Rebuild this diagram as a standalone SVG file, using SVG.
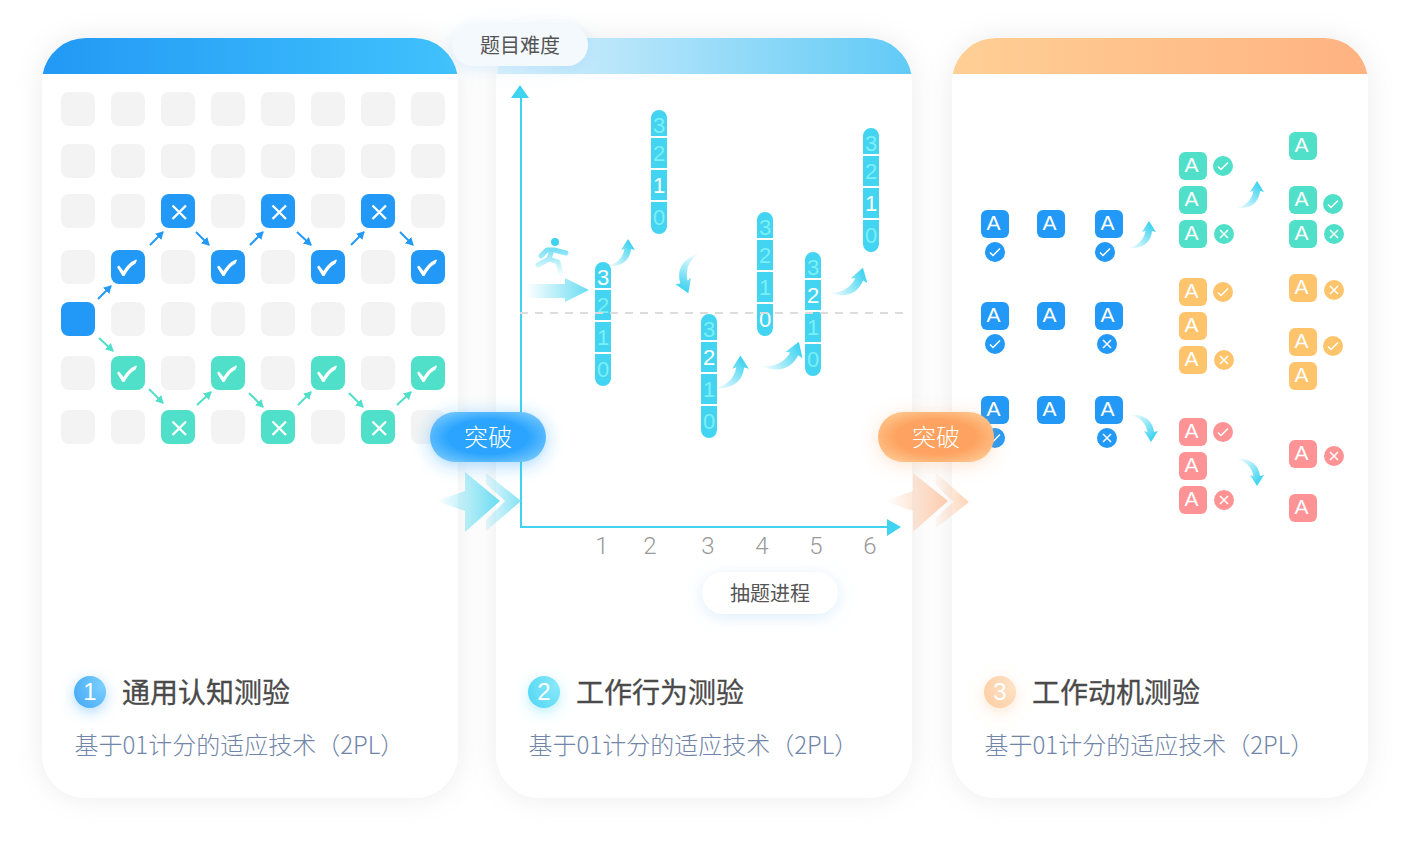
<svg xmlns="http://www.w3.org/2000/svg" xmlns:xlink="http://www.w3.org/1999/xlink" width="1410" height="844" viewBox="0 0 1410 844">
<style>
text{font-family:"Noto Sans CJK SC","Liberation Sans",sans-serif}
.card{fill:#fff}
.g{fill:#f3f3f3}
.b{fill:#2299f6}.t{fill:#50dfc8}.y{fill:#fec46c}.r{fill:#fe9396}
.A{font-family:"Liberation Sans",sans-serif;font-size:21px;fill:#fff;text-anchor:middle}
.seg{fill:#42d4f0}
.n{font-family:"Liberation Sans",sans-serif;font-size:22px;fill:#7befF6;text-anchor:middle}
.n.on{fill:#fff}
.ax{font-family:"Roboto","Liberation Sans",sans-serif;font-weight:300;font-size:24px;fill:#999;text-anchor:middle}
.h{font-size:28px;fill:#4a4a4a;font-weight:400;stroke:#4a4a4a;stroke-width:.3}
.s{font-size:24px;fill:#7085a8;font-weight:300}
.c{font-size:20px;fill:#555;text-anchor:middle}
.p{font-size:24px;fill:#fff;text-anchor:middle;font-weight:300}
.num{font-family:"Liberation Sans",sans-serif;font-size:24px;fill:#fff;text-anchor:middle}
.sa{stroke:#2299f6;stroke-width:2;marker-end:url(#mb);fill:none}
.ta{stroke:#50dfc8;stroke-width:2;marker-end:url(#mt);fill:none}
.ck{fill:#fff}
.xk{stroke:#fff;stroke-width:2.4;fill:none}
.ck2{stroke:#fff;stroke-width:1.5;fill:none}
.xk2{stroke:#fff;stroke-width:1.5;fill:none}
.axis{stroke:#3fd3f0;stroke-width:2;fill:none}
</style>
<defs>
<filter id="cs" x="-20%" y="-10%" width="140%" height="120%"><feDropShadow dx="0" dy="0" stdDeviation="14" flood-color="#000" flood-opacity=".075"/></filter>
<filter id="ls" x="-30%" y="-60%" width="160%" height="240%"><feDropShadow dx="0" dy="3" stdDeviation="8" flood-color="#8cc8f5" flood-opacity=".3"/></filter>
<filter id="gb" x="-30%" y="-60%" width="160%" height="220%"><feDropShadow dx="0" dy="3" stdDeviation="9" flood-color="#2aa4ff" flood-opacity=".45"/></filter>
<filter id="go" x="-30%" y="-60%" width="160%" height="220%"><feDropShadow dx="0" dy="3" stdDeviation="9" flood-color="#fda260" flood-opacity=".3"/></filter>
<filter id="n1" x="-100%" y="-100%" width="300%" height="300%"><feDropShadow dx="0" dy="4" stdDeviation="7" flood-color="#5bb8f9" flood-opacity=".5"/></filter>
<filter id="n2" x="-100%" y="-100%" width="300%" height="300%"><feDropShadow dx="0" dy="4" stdDeviation="7" flood-color="#5fdcf5" flood-opacity=".45"/></filter>
<filter id="n3" x="-100%" y="-100%" width="300%" height="300%"><feDropShadow dx="0" dy="4" stdDeviation="7" flood-color="#fdcfa5" flood-opacity=".5"/></filter>
<linearGradient id="h1"><stop offset="0" stop-color="#2299f5"/><stop offset="1" stop-color="#40c2fc"/></linearGradient>
<linearGradient id="h2"><stop offset="0" stop-color="#dbf1fc"/><stop offset="1" stop-color="#60caf6"/></linearGradient>
<linearGradient id="h3"><stop offset="0" stop-color="#ffcf96"/><stop offset="1" stop-color="#ffb282"/></linearGradient>
<radialGradient id="pb" cx=".5" cy=".5" r=".62" gradientTransform="translate(0 .0) scale(1 1)"><stop offset="0" stop-color="#2aa4ff"/><stop offset=".55" stop-color="#2aa4ff"/><stop offset="1" stop-color="#78c9fb"/></radialGradient>
<radialGradient id="po" cx=".5" cy=".5" r=".62"><stop offset="0" stop-color="#fda260"/><stop offset=".55" stop-color="#fda260"/><stop offset="1" stop-color="#fec990"/></radialGradient>
<linearGradient id="cv" x1="0" y1="1" x2="1" y2="0"><stop offset="0" stop-color="#3fd3f0" stop-opacity="0"/><stop offset=".85" stop-color="#3fd3f0"/></linearGradient>
<linearGradient id="cb"><stop offset="0" stop-color="#62dbf2" stop-opacity="0"/><stop offset="1" stop-color="#62dbf2" stop-opacity=".95"/></linearGradient>
<linearGradient id="cc"><stop offset="0" stop-color="#fdbf98" stop-opacity="0"/><stop offset="1" stop-color="#fdbf98" stop-opacity=".8"/></linearGradient>
<linearGradient id="cc2"><stop offset="0" stop-color="#7fdff4" stop-opacity=".2"/><stop offset="1" stop-color="#7fdff4" stop-opacity=".95"/></linearGradient>
<linearGradient id="cc3"><stop offset="0" stop-color="#fdcfb0" stop-opacity=".15"/><stop offset="1" stop-color="#fdcfb0" stop-opacity=".9"/></linearGradient>
<linearGradient id="rs" gradientUnits="userSpaceOnUse" x1="550" y1="238" x2="550" y2="274"><stop offset="0" stop-color="#3fd3f0"/><stop offset="1" stop-color="#3fd3f0" stop-opacity=".05"/></linearGradient>
<radialGradient id="nb1" cx=".9" cy=".3" r="1"><stop offset="0" stop-color="#7ad0fd"/><stop offset="1" stop-color="#4aabf7"/></radialGradient>
<radialGradient id="nb2" cx=".9" cy=".3" r="1"><stop offset="0" stop-color="#8ae9fa"/><stop offset="1" stop-color="#56d8f5"/></radialGradient>
<radialGradient id="nb3" cx=".9" cy=".3" r="1"><stop offset="0" stop-color="#fee2c6"/><stop offset="1" stop-color="#fdcfa5"/></radialGradient>
<marker id="mb" markerUnits="userSpaceOnUse" markerWidth="8" markerHeight="9" refX="7" refY="4.5" orient="auto"><path d="M0 0L8 4.5L0 9Z" fill="#2299f6"/></marker>
<marker id="mt" markerUnits="userSpaceOnUse" markerWidth="8" markerHeight="9" refX="7" refY="4.5" orient="auto"><path d="M0 0L8 4.5L0 9Z" fill="#50dfc8"/></marker>
<path id="curve" d="M22-27L29-16L25-17C24-5 14 2 0 0C10-1 17-8 18.500-17L15-16Z" fill="url(#cv)"/>
<path id="check" class="ck" d="M6 17L8 15.500L12.500 21Q17 13 25 9.500L26 10L24.500 13.500Q18 17 13.500 26L11.500 26Z"/>
<path id="cross" class="xk" d="M11.500 11.500L25 25M25 11.500L11.500 25"/>
<path id="ck2" class="ck2" d="M-5 .5L-2 3.500L5-3.500"/>
<path id="xk2" class="xk2" d="M-4-4L4 4M4-4L-4 4"/>
</defs>

<g id="card-1"><rect class="card" x="42" y="38" width="416" height="760" rx="44" filter="url(#cs)"/><path d="M42.700 74A44 44 0 0 1 86 38H414A44 44 0 0 1 457.300 74Z" fill="url(#h1)"/></g>
<g id="card-2"><rect class="card" x="496" y="38" width="416" height="760" rx="44" filter="url(#cs)"/><path d="M496.700 74A44 44 0 0 1 540 38H868A44 44 0 0 1 911.300 74Z" fill="url(#h2)"/></g>
<g id="card-3"><rect class="card" x="952" y="38" width="416" height="760" rx="44" filter="url(#cs)"/><path d="M952.700 74A44 44 0 0 1 996 38H1324A44 44 0 0 1 1367.300 74Z" fill="url(#h3)"/></g>

<g id="grid">
<g id="grid-empty" class="g">
<rect x="61" y="92" width="34" height="34" rx="8"/><rect x="111" y="92" width="34" height="34" rx="8"/><rect x="161" y="92" width="34" height="34" rx="8"/><rect x="211" y="92" width="34" height="34" rx="8"/><rect x="261" y="92" width="34" height="34" rx="8"/><rect x="311" y="92" width="34" height="34" rx="8"/><rect x="361" y="92" width="34" height="34" rx="8"/><rect x="411" y="92" width="34" height="34" rx="8"/>
<rect x="61" y="144" width="34" height="34" rx="8"/><rect x="111" y="144" width="34" height="34" rx="8"/><rect x="161" y="144" width="34" height="34" rx="8"/><rect x="211" y="144" width="34" height="34" rx="8"/><rect x="261" y="144" width="34" height="34" rx="8"/><rect x="311" y="144" width="34" height="34" rx="8"/><rect x="361" y="144" width="34" height="34" rx="8"/><rect x="411" y="144" width="34" height="34" rx="8"/>
<rect x="61" y="194" width="34" height="34" rx="8"/><rect x="111" y="194" width="34" height="34" rx="8"/><rect x="211" y="194" width="34" height="34" rx="8"/><rect x="311" y="194" width="34" height="34" rx="8"/><rect x="411" y="194" width="34" height="34" rx="8"/>
<rect x="61" y="250" width="34" height="34" rx="8"/><rect x="161" y="250" width="34" height="34" rx="8"/><rect x="261" y="250" width="34" height="34" rx="8"/><rect x="361" y="250" width="34" height="34" rx="8"/>
<rect x="111" y="302" width="34" height="34" rx="8"/><rect x="161" y="302" width="34" height="34" rx="8"/><rect x="211" y="302" width="34" height="34" rx="8"/><rect x="261" y="302" width="34" height="34" rx="8"/><rect x="311" y="302" width="34" height="34" rx="8"/><rect x="361" y="302" width="34" height="34" rx="8"/><rect x="411" y="302" width="34" height="34" rx="8"/>
<rect x="61" y="356" width="34" height="34" rx="8"/><rect x="161" y="356" width="34" height="34" rx="8"/><rect x="261" y="356" width="34" height="34" rx="8"/><rect x="361" y="356" width="34" height="34" rx="8"/>
<rect x="61" y="410" width="34" height="34" rx="8"/><rect x="111" y="410" width="34" height="34" rx="8"/><rect x="211" y="410" width="34" height="34" rx="8"/><rect x="311" y="410" width="34" height="34" rx="8"/><rect x="411" y="410" width="34" height="34" rx="8"/>
</g>
<rect id="start" class="b" x="61" y="302" width="34" height="34" rx="8"/>
<g id="blue-path">
<rect class="b" x="161" y="194" width="34" height="34" rx="8"/><use href="#cross" x="161" y="194"/>
<rect class="b" x="261" y="194" width="34" height="34" rx="8"/><use href="#cross" x="261" y="194"/>
<rect class="b" x="361" y="194" width="34" height="34" rx="8"/><use href="#cross" x="361" y="194"/>
<rect class="b" x="111" y="250" width="34" height="34" rx="8"/><use href="#check" x="111" y="250"/>
<rect class="b" x="211" y="250" width="34" height="34" rx="8"/><use href="#check" x="211" y="250"/>
<rect class="b" x="311" y="250" width="34" height="34" rx="8"/><use href="#check" x="311" y="250"/>
<rect class="b" x="411" y="250" width="34" height="34" rx="8"/><use href="#check" x="411" y="250"/>
</g>
<g id="green-path">
<rect class="t" x="111" y="356" width="34" height="34" rx="8"/><use href="#check" x="111" y="356"/>
<rect class="t" x="211" y="356" width="34" height="34" rx="8"/><use href="#check" x="211" y="356"/>
<rect class="t" x="311" y="356" width="34" height="34" rx="8"/><use href="#check" x="311" y="356"/>
<rect class="t" x="411" y="356" width="34" height="34" rx="8"/><use href="#check" x="411" y="356"/>
<rect class="t" x="161" y="410" width="34" height="34" rx="8"/><use href="#cross" x="161" y="410"/>
<rect class="t" x="261" y="410" width="34" height="34" rx="8"/><use href="#cross" x="261" y="410"/>
<rect class="t" x="361" y="410" width="34" height="34" rx="8"/><use href="#cross" x="361" y="410"/>
</g>
</g>

<g id="connectors">
<path class="sa" d="M98 299L111 286"/><path class="sa" d="M150 245L163 232"/><path class="sa" d="M196 232L209 245"/><path class="sa" d="M250 245L263 232"/><path class="sa" d="M297 232L311 245"/><path class="sa" d="M351 245L364 232"/><path class="sa" d="M400 232L413 245"/>
<path class="ta" d="M99 338L113 351"/><path class="ta" d="M149 389L163 403"/><path class="ta" d="M197 405L211 392"/><path class="ta" d="M249 393L263 407"/><path class="ta" d="M298 405L311 392"/><path class="ta" d="M349 393L363 407"/><path class="ta" d="M397 405L411 392"/>
<use href="#curve" transform="translate(606,266)"/>
<use href="#curve" transform="translate(714,388) scale(1.2)"/>
<use href="#curve" transform="translate(760,365) rotate(20) scale(1.3)"/>
<use href="#curve" transform="translate(828,292) rotate(16) scale(1.22)"/>
<use href="#curve" transform="translate(700,253) rotate(157) scale(1.2)"/>
<use href="#curve" transform="translate(1127,248)"/>
<use href="#curve" transform="translate(1235,208)"/>
<use href="#curve" transform="translate(1129,415) scale(1,-1)"/>
<use href="#curve" transform="translate(1235,459) scale(1,-1)"/>
</g>

<g id="axes">
<path class="axis" d="M521 94V527H890"/>
<path d="M520 85L529 98H511Z" fill="#3fd3f0"/>
<path d="M901 527L887 519V536Z" fill="#3fd3f0"/>
<text class="ax" x="602" y="554">1</text><text class="ax" x="650" y="554">2</text><text class="ax" x="708" y="554">3</text><text class="ax" x="762" y="554">4</text><text class="ax" x="816" y="554">5</text><text class="ax" x="870" y="554">6</text>
</g>

<g id="runner">
<circle cx="555" cy="242" r="4" fill="#3fd3f0"/>
<path d="M541 256L547 250H554L566 253M552 250L549 259L538 265M549 259L558 262L561 274" fill="none" stroke="url(#rs)" stroke-width="5" stroke-linecap="round" stroke-linejoin="round"/>
</g>
<path id="start-arrow" d="M526 284H565V278L589 290L565 302V298H526Z" fill="url(#cb)"/>

<g id="bar-1" transform="translate(595,262)"><path class="seg" d="M0 26V8A8 8 0 0 1 16 8V26ZM0 28H16V58H0ZM0 60H16V90H0ZM0 92H16V116A8 8 0 0 1 0 116Z"/><text class="n on" x="8" y="23">3</text><text class="n" x="8" y="51">2</text><text class="n" x="8" y="83">1</text><text class="n" x="8" y="115">0</text></g>
<g id="bar-2" transform="translate(651,110)"><path class="seg" d="M0 26V8A8 8 0 0 1 16 8V26ZM0 28H16V58H0ZM0 60H16V90H0ZM0 92H16V116A8 8 0 0 1 0 116Z"/><text class="n" x="8" y="23">3</text><text class="n" x="8" y="51">2</text><text class="n on" x="8" y="83">1</text><text class="n" x="8" y="115">0</text></g>
<g id="bar-3" transform="translate(701,314)"><path class="seg" d="M0 26V8A8 8 0 0 1 16 8V26ZM0 28H16V58H0ZM0 60H16V90H0ZM0 92H16V116A8 8 0 0 1 0 116Z"/><text class="n" x="8" y="23">3</text><text class="n on" x="8" y="51">2</text><text class="n" x="8" y="83">1</text><text class="n" x="8" y="115">0</text></g>
<g id="bar-4" transform="translate(757,212)"><path class="seg" d="M0 26V8A8 8 0 0 1 16 8V26ZM0 28H16V58H0ZM0 60H16V90H0ZM0 92H16V116A8 8 0 0 1 0 116Z"/><text class="n" x="8" y="23">3</text><text class="n" x="8" y="51">2</text><text class="n" x="8" y="83">1</text><text class="n on" x="8" y="115">0</text></g>
<g id="bar-5" transform="translate(805,252)"><path class="seg" d="M0 26V8A8 8 0 0 1 16 8V26ZM0 28H16V58H0ZM0 60H16V90H0ZM0 92H16V116A8 8 0 0 1 0 116Z"/><text class="n" x="8" y="23">3</text><text class="n on" x="8" y="51">2</text><text class="n" x="8" y="83">1</text><text class="n" x="8" y="115">0</text></g>
<g id="bar-6" transform="translate(863,128)"><path class="seg" d="M0 26V8A8 8 0 0 1 16 8V26ZM0 28H16V58H0ZM0 60H16V90H0ZM0 92H16V116A8 8 0 0 1 0 116Z"/><text class="n" x="8" y="23">3</text><text class="n" x="8" y="51">2</text><text class="n on" x="8" y="83">1</text><text class="n" x="8" y="115">0</text></g>
<path id="threshold" d="M520 313H908" stroke="#dcdcdc" stroke-width="2" stroke-dasharray="8 7" fill="none"/>

<g id="quiz">
<g class="b">
<rect x="981" y="210" width="28" height="28" rx="6"/><rect x="1037" y="210" width="28" height="28" rx="6"/><rect x="1095" y="210" width="28" height="28" rx="6"/>
<rect x="981" y="302" width="28" height="28" rx="6"/><rect x="1037" y="302" width="28" height="28" rx="6"/><rect x="1095" y="302" width="28" height="28" rx="6"/>
<rect x="981" y="396" width="28" height="28" rx="6"/><rect x="1037" y="396" width="28" height="28" rx="6"/><rect x="1095" y="396" width="28" height="28" rx="6"/>
<circle cx="995" cy="252" r="10"/><circle cx="1105" cy="252" r="10"/><circle cx="995" cy="344" r="10"/><circle cx="1107" cy="344" r="10"/><circle cx="995" cy="438" r="10"/><circle cx="1107" cy="438" r="10"/>
</g>
<g class="t">
<rect x="1179" y="152" width="28" height="28" rx="6"/><rect x="1179" y="186" width="28" height="28" rx="6"/><rect x="1179" y="220" width="28" height="28" rx="6"/>
<rect x="1289" y="132" width="28" height="28" rx="6"/><rect x="1289" y="186" width="28" height="28" rx="6"/><rect x="1289" y="220" width="28" height="28" rx="6"/>
<circle cx="1223" cy="166" r="10"/><circle cx="1224" cy="234" r="10"/><circle cx="1333" cy="204" r="10"/><circle cx="1334" cy="234" r="10"/>
</g>
<g class="y">
<rect x="1179" y="278" width="28" height="28" rx="6"/><rect x="1179" y="312" width="28" height="28" rx="6"/><rect x="1179" y="346" width="28" height="28" rx="6"/>
<rect x="1289" y="274" width="28" height="28" rx="6"/><rect x="1289" y="328" width="28" height="28" rx="6"/><rect x="1289" y="362" width="28" height="28" rx="6"/>
<circle cx="1223" cy="292" r="10"/><circle cx="1224" cy="360" r="10"/><circle cx="1334" cy="290" r="10"/><circle cx="1333" cy="346" r="10"/>
</g>
<g class="r">
<rect x="1179" y="418" width="28" height="28" rx="6"/><rect x="1179" y="452" width="28" height="28" rx="6"/><rect x="1179" y="486" width="28" height="28" rx="6"/>
<rect x="1289" y="440" width="28" height="28" rx="6"/><rect x="1289" y="494" width="28" height="28" rx="6"/>
<circle cx="1223" cy="432" r="10"/><circle cx="1224" cy="500" r="10"/><circle cx="1334" cy="456" r="10"/>
</g>
<use href="#ck2" x="995" y="252"/><use href="#ck2" x="1105" y="252"/><use href="#ck2" x="995" y="344"/><use href="#xk2" x="1107" y="344"/><use href="#ck2" x="995" y="438"/><use href="#xk2" x="1107" y="438"/>
<use href="#ck2" x="1223" y="166"/><use href="#xk2" x="1224" y="234"/><use href="#ck2" x="1333" y="204"/><use href="#xk2" x="1334" y="234"/>
<use href="#ck2" x="1223" y="292"/><use href="#xk2" x="1224" y="360"/><use href="#xk2" x="1334" y="290"/><use href="#ck2" x="1333" y="346"/>
<use href="#ck2" x="1223" y="432"/><use href="#xk2" x="1224" y="500"/><use href="#xk2" x="1334" y="456"/>
<g transform="translate(-.5,-1)">
<text class="A" x="994" y="231">A</text><text class="A" x="1050" y="231">A</text><text class="A" x="1108" y="231">A</text>
<text class="A" x="994" y="323">A</text><text class="A" x="1050" y="323">A</text><text class="A" x="1108" y="323">A</text>
<text class="A" x="994" y="417">A</text><text class="A" x="1050" y="417">A</text><text class="A" x="1108" y="417">A</text>
<text class="A" x="1192" y="173">A</text><text class="A" x="1192" y="207">A</text><text class="A" x="1192" y="241">A</text>
<text class="A" x="1302" y="153">A</text><text class="A" x="1302" y="207">A</text><text class="A" x="1302" y="241">A</text>
<text class="A" x="1192" y="299">A</text><text class="A" x="1192" y="333">A</text><text class="A" x="1192" y="367">A</text>
<text class="A" x="1302" y="295">A</text><text class="A" x="1302" y="349">A</text><text class="A" x="1302" y="383">A</text>
<text class="A" x="1192" y="439">A</text><text class="A" x="1192" y="473">A</text><text class="A" x="1192" y="507">A</text>
<text class="A" x="1302" y="461">A</text><text class="A" x="1302" y="515">A</text>
</g>
</g>

<g id="chevrons-blue">
<path d="M436 501L465 491V472L500 501L465 532V511Z" fill="url(#cb)"/>
<path d="M486 473L521 501L486 531V520L505 501L486 484Z" fill="url(#cc2)"/>
</g>
<g id="chevrons-orange">
<path d="M884 501L913 491V473L948 501L913 532V511Z" fill="url(#cc)"/>
<path d="M936 473L969 502L936 528V518L953 502L936 485Z" fill="url(#cc3)"/>
</g>

<g id="pill-blue"><rect x="430" y="412" width="116" height="50" rx="25" fill="url(#pb)" filter="url(#gb)"/><text class="p" x="488" y="446">突破</text></g>
<g id="pill-orange"><rect x="878" y="412" width="116" height="50" rx="25" fill="url(#po)" filter="url(#go)"/><text class="p" x="936" y="446">突破</text></g>

<g id="label-difficulty"><path d="M510 65H530L520 73Z" fill="#d8effb"/><rect x="452" y="24" width="136" height="42" rx="21" fill="#f4f9fe" filter="url(#ls)"/><text class="c" x="520" y="53">题目难度</text></g>
<g id="label-progress"><path d="M760 573H780L770 562Z" fill="#fff"/><rect x="702" y="572" width="136" height="42" rx="21" fill="#fff" filter="url(#ls)"/><text class="c" x="770" y="601">抽题进程</text></g>

<g id="caption-1"><circle cx="90" cy="692" r="16" fill="url(#nb1)" filter="url(#n1)"/><text class="num" x="90" y="700">1</text><text class="h" x="122" y="702.500">通用认知测验</text><text class="s" x="74.500" y="754">基于01计分的适应技术（2PL）</text></g>
<g id="caption-2"><circle cx="544" cy="692" r="16" fill="url(#nb2)" filter="url(#n2)"/><text class="num" x="544" y="700">2</text><text class="h" x="576" y="702.500">工作行为测验</text><text class="s" x="528.500" y="754">基于01计分的适应技术（2PL）</text></g>
<g id="caption-3"><circle cx="1000" cy="692" r="16" fill="url(#nb3)" filter="url(#n3)"/><text class="num" x="1000" y="700">3</text><text class="h" x="1032" y="702.500">工作动机测验</text><text class="s" x="984.500" y="754">基于01计分的适应技术（2PL）</text></g>
</svg>
